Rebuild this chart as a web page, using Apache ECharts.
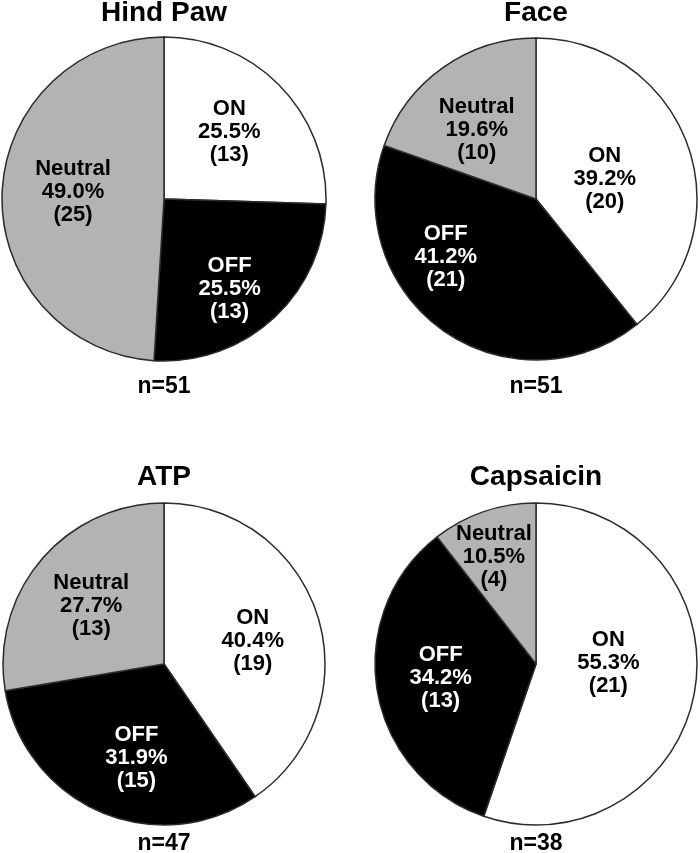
<!DOCTYPE html>
<html>
<head>
<meta charset="utf-8">
<script src="https://cdn.jsdelivr.net/npm/echarts@6/dist/echarts.min.js"></script>
<style>
html,body{margin:0;padding:0;background:#fff;}
#chart{width:700px;height:853px;}
</style>
</head>
<body>
<div id="chart"></div>
<script>
// ---- data ----
const panelTitles = ['Hind Paw', 'Face', 'ATP', 'Capsaicin'];
const categories = ['ON', 'OFF', 'Neutral'];
const hindPawCounts = [13, 13, 25];
const faceCounts = [20, 21, 10];
const atpCounts = [19, 15, 13];
const capsaicinCounts = [21, 13, 4];
const nLabels = ['n=51', 'n=51', 'n=47', 'n=38'];

// ---- layout / style ----
const sliceColors = ['#ffffff', '#000000', '#b3b3b3'];
const labelColors = ['#000000', '#ffffff', '#000000'];
const FONT = '"Liberation Sans", Arial, Helvetica, sans-serif';
const panels = [
  {counts: hindPawCounts, center: [164, 199], r: 162, titleY: 13, nY: 387,
   offsets: [[5, -9], [9, 28], [-7, -4]]},
  {counts: faceCounts, center: [536, 199], r: 161, titleY: 13, nY: 387,
   offsets: [[-10, 8], [-42, -10], [-11, -1]]},
  {counts: atpCounts, center: [164, 664], r: 161, titleY: 477, nY: 844,
   offsets: [[9, 2], [5, 17], [-9, -4]]},
  {counts: capsaicinCounts, center: [536, 664], r: 161, titleY: 477, nY: 844,
   offsets: [[-10, -15], [-13, 0], [-15, -28]]}
];

const titles = [];
const series = [];
panels.forEach((p, i) => {
  titles.push({
    text: panelTitles[i], left: p.center[0], top: p.titleY, padding: 0,
    textAlign: 'center', textVerticalAlign: 'middle',
    textStyle: {fontFamily: FONT, fontWeight: 'bold', fontSize: 28, color: '#000'}
  });
  titles.push({
    text: nLabels[i], left: p.center[0], top: p.nY, padding: 0,
    textAlign: 'center', textVerticalAlign: 'middle',
    textStyle: {fontFamily: FONT, fontWeight: 'bold', fontSize: 23, color: '#000'}
  });
  series.push({
    type: 'pie',
    center: p.center,
    radius: p.r,
    startAngle: 90,
    clockwise: true,
    percentPrecision: 1,
    avoidLabelOverlap: false,
    silent: true,
    animation: false,
    emphasis: {disabled: true},
    itemStyle: {borderColor: '#2b2b2b', borderWidth: 1.5},
    label: {
      show: true,
      position: 'inside',
      fontFamily: FONT,
      fontWeight: 'bold',
      fontSize: 22,
      lineHeight: 23,
      align: 'center',
      formatter: (d) => d.name + '\n' + d.percent.toFixed(1) + '%\n(' + d.value + ')'
    },
    labelLine: {show: false},
    data: categories.map((c, k) => ({
      name: c,
      value: p.counts[k],
      itemStyle: {color: sliceColors[k]},
      label: {color: labelColors[k], offset: p.offsets[k]}
    }))
  });
});

const chart = echarts.init(document.getElementById('chart'), null, {renderer: 'canvas'});
chart.setOption({
  backgroundColor: '#ffffff',
  animation: false,
  title: titles,
  series: series
});
</script>
</body>
</html>
